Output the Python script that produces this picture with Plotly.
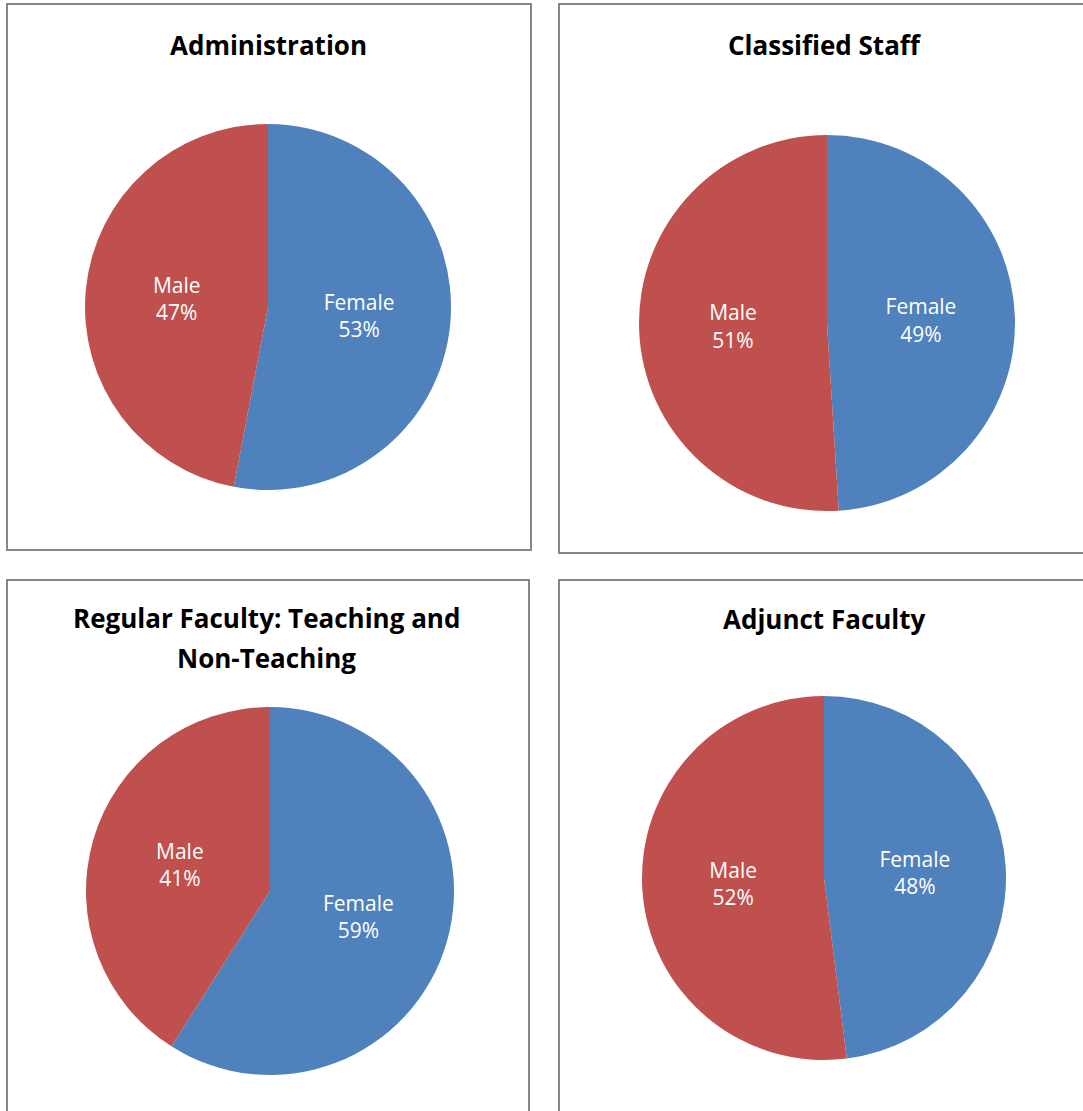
import plotly.graph_objects as go

W, H = 1083, 1111

titles = ["Administration", "Classified Staff",
          "Regular Faculty: Teaching and", "Adjunct Faculty"]
title_line2 = ["", "", "Non-Teaching", ""]
labels = ["Female", "Male"]
female_pct = [53, 49, 59, 48]
male_pct = [47, 51, 41, 52]
colors = ["#4F81BD", "#C0504D"]

# layout geometry (pixels)
pie_centers = [(268, 307), (827, 323), (270, 891), (824, 878)]
pie_radii = [183, 188, 184, 182]
title_pos = [(268, 45), (825, 45), (266, 618), (824, 619)]
boxes = [(7, 4, 531, 550), (559, 4, 1095, 553), (7, 580, 529, 1125), (559, 580, 1095, 1125)]

def px(x):
    return x / W

def py(y):
    return 1 - y / H

fig = go.Figure()
for i in range(4):
    cx, cy = pie_centers[i]
    r = pie_radii[i]
    fig.add_trace(go.Pie(
        labels=labels,
        values=[female_pct[i], male_pct[i]],
        sort=False,
        direction="clockwise",
        rotation=0,
        marker=dict(colors=colors, line=dict(width=0)),
        textinfo="label+percent",
        texttemplate="%{label}<br>%{value}%",
        textposition="inside",
        insidetextorientation="horizontal",
        insidetextfont=dict(family="Open Sans", size=21, color="white"),
        domain=dict(x=[px(cx - r), px(cx + r)], y=[py(cy + r), py(cy - r)]),
        showlegend=False,
        hoverinfo="label+percent",
    ))
    tx, ty = title_pos[i]
    fig.add_annotation(x=px(tx), y=py(ty), xref="paper", yref="paper",
                       text="<b>" + titles[i] + "</b>", showarrow=False,
                       font=dict(family="Open Sans", size=26, color="black"),
                       xanchor="center", yanchor="middle")
    if title_line2[i]:
        fig.add_annotation(x=px(tx), y=py(ty + 40), xref="paper", yref="paper",
                           text="<b>" + title_line2[i] + "</b>", showarrow=False,
                           font=dict(family="Open Sans", size=26, color="black"),
                           xanchor="center", yanchor="middle")
    x0, y0, x1, y1 = boxes[i]
    fig.add_shape(type="rect", xref="paper", yref="paper",
                  x0=px(x0), x1=px(x1), y0=py(y1), y1=py(y0),
                  line=dict(color="#878787", width=2), fillcolor="rgba(0,0,0,0)",
                  layer="below")

fig.update_layout(width=W, height=H, margin=dict(l=0, r=0, t=0, b=0),
                  paper_bgcolor="white", plot_bgcolor="white")
fig.write_html("out.html", config={"displayModeBar": False},
               post_script="document.body.style.margin='0';document.body.style.overflow='hidden';")
